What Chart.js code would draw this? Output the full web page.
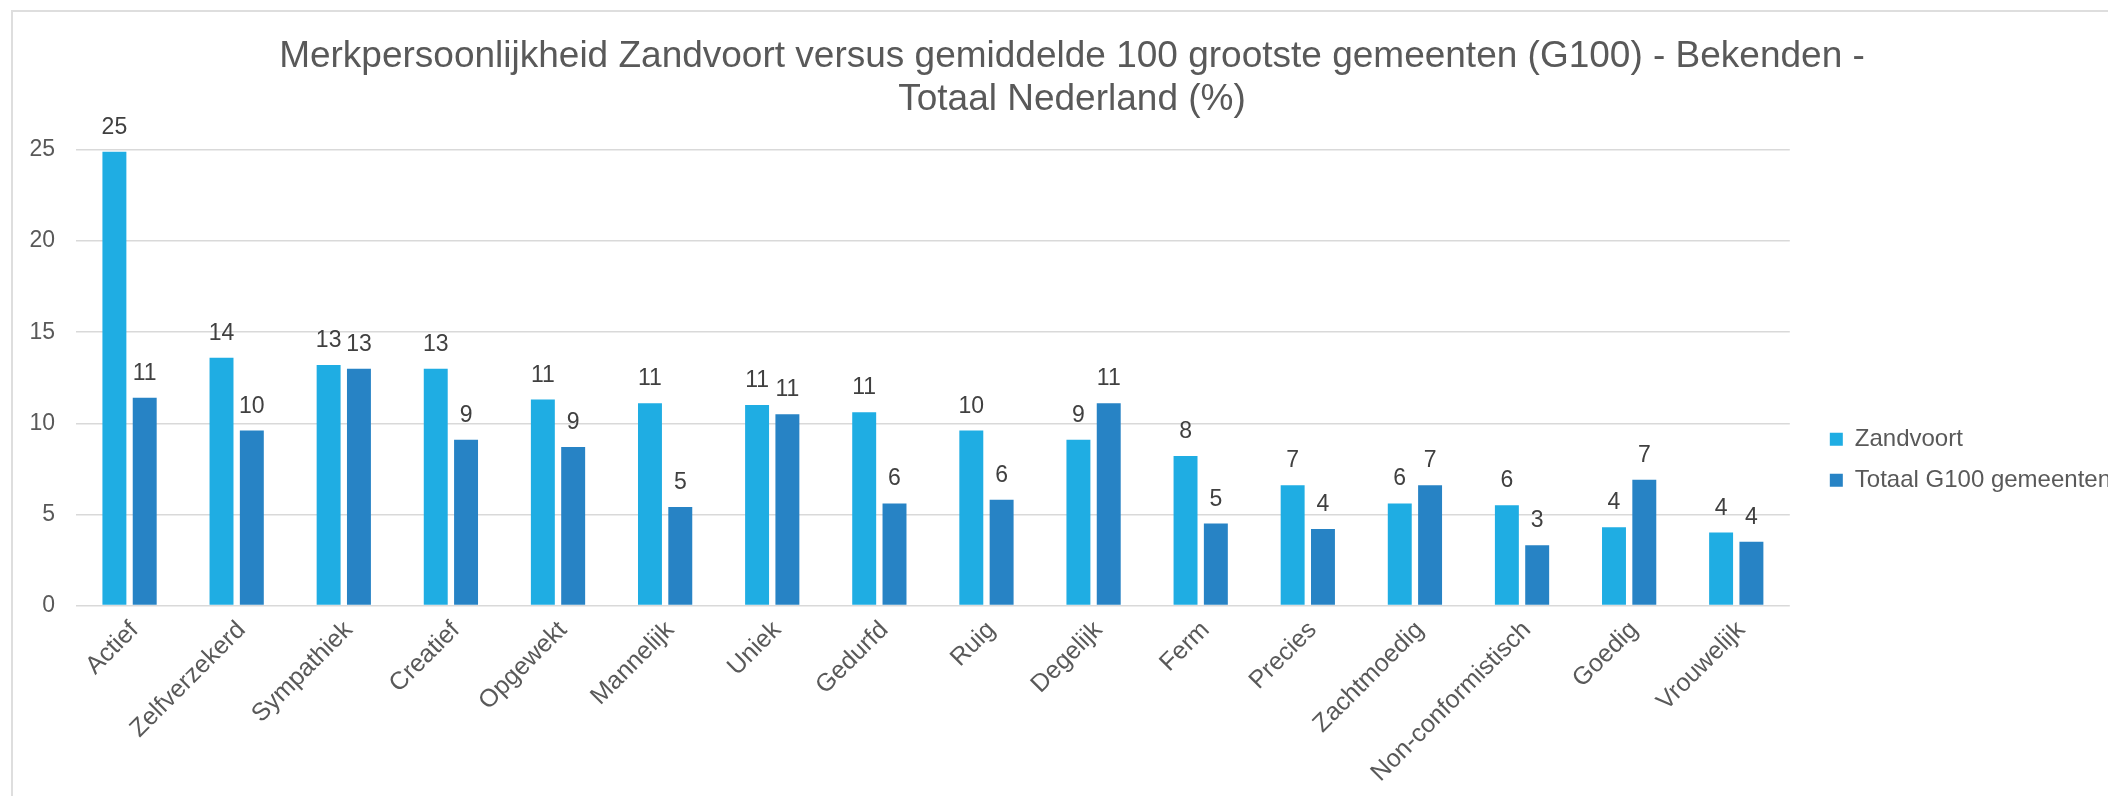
<!DOCTYPE html>
<html>
<head>
<meta charset="utf-8">
<script src="https://cdn.jsdelivr.net/npm/chart.js@4/dist/chart.umd.min.js"></script>
<style>
    html, body { margin: 0; padding: 0; background: #ffffff; overflow: hidden; }
    #frame { position: absolute; left: 11px; top: 10px; width: 2200px; height: 900px;
             border-left: 2px solid #dedede; border-top: 2px solid #dedede; }
    #chart { position: absolute; left: 0; top: 0; }
</style>
</head>
<body>
<div id="frame"></div>
<canvas id="chart" width="2121" height="796"></canvas>
<script>
const title = ['Merkpersoonlijkheid Zandvoort versus gemiddelde 100 grootste gemeenten (G100) - Bekenden -', 'Totaal Nederland (%)'];
const categories = ['Actief', 'Zelfverzekerd', 'Sympathiek', 'Creatief', 'Opgewekt', 'Mannelijk', 'Uniek', 'Gedurfd',
    'Ruig', 'Degelijk', 'Ferm', 'Precies', 'Zachtmoedig', 'Non-conformistisch', 'Goedig', 'Vrouwelijk'];
const seriesNames = ['Zandvoort', 'Totaal G100 gemeenten'];
const zandvoort = [24.9, 13.6, 13.2, 13.0, 11.3, 11.1, 11.0, 10.6, 9.6, 9.1, 8.2, 6.6, 5.6, 5.5, 4.3, 4.0];
const g100 = [11.4, 9.6, 13.0, 9.1, 8.7, 5.4, 10.5, 5.6, 5.8, 11.1, 4.5, 4.2, 6.6, 3.3, 6.9, 3.5];
const yTicks = [0, 5, 10, 15, 20, 25];

const barcolors = ['#1fade3', '#2783c5'];
const textcolor = '#595959';
const gridcolor = '#d9d9d9';

Chart.defaults.font.family = '"Liberation Sans", Arial, sans-serif';
Chart.defaults.color = textcolor;

// value labels above the bars, rounded like the original
const barLabels = {
    id: 'barLabels',
    afterDatasetsDraw(chart) {
        const ctx = chart.ctx;
        ctx.save();
        ctx.font = '23px "Liberation Sans", Arial, sans-serif';
        ctx.fillStyle = '#404040';
        ctx.textAlign = 'center';
        ctx.textBaseline = 'alphabetic';
        chart.data.datasets.forEach((ds, i) => {
            chart.getDatasetMeta(i).data.forEach((bar, j) => {
                ctx.fillText(Math.round(ds.data[j]).toString(), bar.x, bar.y - 18);
            });
        });
        ctx.restore();
    }
};

function createChart(id) {
    const ctx = document.getElementById(id);
    return new Chart(ctx, {
        type: 'bar',
        data: {
            labels: categories,
            datasets: [
                { label: seriesNames[0], data: zandvoort, backgroundColor: barcolors[0], borderWidth: 0 },
                { label: seriesNames[1], data: g100, backgroundColor: barcolors[1], borderWidth: 0 }
            ]
        },
        options: {
            responsive: false,
            animation: false,
            categoryPercentage: 0.566,
            barPercentage: 0.79,
            layout: { padding: { left: 23, top: 0, right: 0, bottom: 0 } },
            scales: {
                x: {
                    grid: { display: false },
                    border: { display: false },
                    afterFit: (scale) => { scale.height = 190.5; },
                    ticks: {
                        font: { size: 25 },
                        color: textcolor,
                        minRotation: 45,
                        maxRotation: 45,
                        padding: 2,
                        labelOffset: 5
                    }
                },
                y: {
                    min: 0,
                    max: 25,
                    afterBuildTicks: (scale) => { scale.ticks = yTicks.map(v => ({ value: v })); },
                    afterFit: (scale) => { scale.width = 53; },
                    grid: { color: gridcolor, lineWidth: 1.5, drawTicks: false },
                    border: { display: false },
                    ticks: { font: { size: 23 }, color: textcolor, padding: 21 }
                },
                // empty spacer between plot and legend
                gap: {
                    type: 'linear',
                    position: 'right',
                    grid: { display: false },
                    border: { display: false },
                    ticks: { display: false },
                    afterFit: (scale) => { scale.width = 23; }
                }
            },
            plugins: {
                title: {
                    display: true,
                    text: title,
                    color: textcolor,
                    font: { size: 37, weight: 'normal', lineHeight: 1.162 },
                    padding: { top: 35, bottom: 29 }
                },
                legend: {
                    position: 'right',
                    title: { display: true, text: ' ', font: { size: 12 }, padding: { top: 0, bottom: 109 } },
                    labels: {
                        boxWidth: 13,
                        boxHeight: 13,
                        padding: 17,
                        color: textcolor,
                        font: { size: 24 }
                    }
                },
                tooltip: { enabled: false }
            }
        },
        plugins: [barLabels]
    });
}

createChart('chart');
</script>
</body>
</html>
